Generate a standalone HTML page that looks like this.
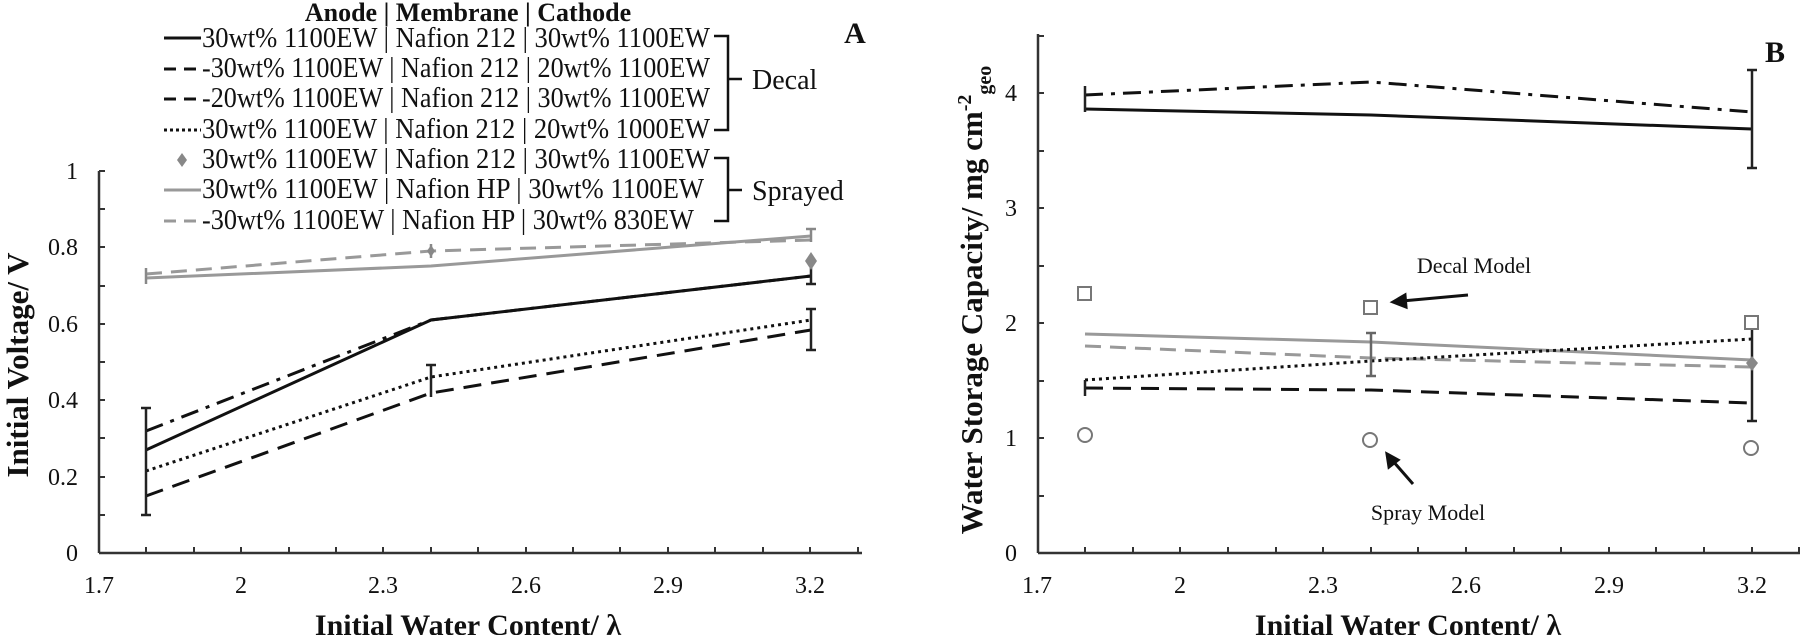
<!DOCTYPE html>
<html><head><meta charset="utf-8"><style>
html,body{margin:0;padding:0;background:#fff}
svg{display:block}
text{font-family:"Liberation Serif",serif;fill:#111}
</style></head><body>
<svg width="1800" height="635" viewBox="0 0 1800 635" xmlns="http://www.w3.org/2000/svg">
<!-- Panel A axes -->
<g stroke="#333" stroke-width="2.5" fill="none">
<line x1="99" y1="171" x2="99" y2="553"/>
<line x1="99" y1="553" x2="862" y2="553"/>
</g>
<g stroke="#333" stroke-width="2">
<line x1="99" y1="515" x2="105" y2="515"/><line x1="99" y1="477" x2="105" y2="477"/><line x1="99" y1="438" x2="105" y2="438"/><line x1="99" y1="400" x2="105" y2="400"/><line x1="99" y1="362" x2="105" y2="362"/><line x1="99" y1="324" x2="105" y2="324"/><line x1="99" y1="286" x2="105" y2="286"/><line x1="99" y1="247" x2="105" y2="247"/><line x1="99" y1="209" x2="105" y2="209"/><line x1="99" y1="171" x2="105" y2="171"/>
<line x1="146" y1="553" x2="146" y2="547"/><line x1="194" y1="553" x2="194" y2="547"/><line x1="241" y1="553" x2="241" y2="547"/><line x1="289" y1="553" x2="289" y2="547"/><line x1="336" y1="553" x2="336" y2="547"/><line x1="383" y1="553" x2="383" y2="547"/><line x1="431" y1="553" x2="431" y2="547"/><line x1="478" y1="553" x2="478" y2="547"/><line x1="526" y1="553" x2="526" y2="547"/><line x1="573" y1="553" x2="573" y2="547"/><line x1="620" y1="553" x2="620" y2="547"/><line x1="668" y1="553" x2="668" y2="547"/><line x1="715" y1="553" x2="715" y2="547"/><line x1="763" y1="553" x2="763" y2="547"/><line x1="810" y1="553" x2="810" y2="547"/><line x1="858" y1="553" x2="858" y2="547"/>
</g>
<g font-size="24" text-anchor="end">
<text x="78" y="561">0</text><text x="78" y="485">0.2</text><text x="78" y="408">0.4</text><text x="78" y="332">0.6</text><text x="78" y="255">0.8</text><text x="78" y="179">1</text>
</g>
<g font-size="24" text-anchor="middle">
<text x="99" y="593">1.7</text><text x="241" y="593">2</text><text x="383" y="593">2.3</text><text x="526" y="593">2.6</text><text x="668" y="593">2.9</text><text x="810" y="593">3.2</text>
</g>
<text x="468" y="635" font-size="30" font-weight="bold" text-anchor="middle">Initial Water Content/ λ</text>
<text transform="translate(28,365) rotate(-90)" font-size="31" font-weight="bold" text-anchor="middle">Initial Voltage/ V</text>
<text x="855" y="43" font-size="30" font-weight="bold" text-anchor="middle">A</text>

<!-- Panel A series -->
<g fill="none" stroke-width="3">
<polyline points="146,278 431,266 811,236" stroke="#999"/>
<polyline points="146,274 431,251 811,240" stroke="#999" stroke-dasharray="16,9"/>
<polyline points="146,431 431,320 811,276" stroke="#111" stroke-dasharray="18,8,4,8"/>
<polyline points="146,450 431,320 811,276" stroke="#111"/>
<polyline points="146,471 431,377 811,320" stroke="#111" stroke-dasharray="3,4"/>
<polyline points="146,496 431,393 811,330" stroke="#111" stroke-dasharray="18,10"/>
</g>
<g stroke="#222" stroke-width="2.5">
<line x1="146" y1="408" x2="146" y2="515"/><line x1="141" y1="408" x2="151" y2="408"/><line x1="141" y1="515" x2="151" y2="515"/>
<line x1="431" y1="365" x2="431" y2="397"/><line x1="426" y1="365" x2="436" y2="365"/>
<line x1="811" y1="309" x2="811" y2="350"/><line x1="806" y1="309" x2="816" y2="309"/><line x1="806" y1="350" x2="816" y2="350"/>
<line x1="811" y1="268" x2="811" y2="284"/><line x1="806" y1="284" x2="816" y2="284"/>
<line x1="146" y1="268" x2="146" y2="284" stroke="#888"/>
<line x1="811" y1="229" x2="811" y2="242" stroke="#888"/><line x1="806" y1="229" x2="816" y2="229" stroke="#888"/>
<line x1="431" y1="244" x2="431" y2="258" stroke="#888"/>
</g>
<polygon points="811,252 817,261 811,270 805,261" fill="#888"/>
<polygon points="431,245 435,251 431,257 427,251" fill="#888"/>

<!-- Legend A -->
<text x="468" y="21" font-size="26" font-weight="bold" text-anchor="middle">Anode | Membrane | Cathode</text>
<g font-size="28">
<text x="202" y="47" textLength="508" lengthAdjust="spacingAndGlyphs">30wt% 1100EW | Nafion 212 | 30wt% 1100EW</text>
<text x="202" y="77" textLength="508" lengthAdjust="spacingAndGlyphs">-30wt% 1100EW | Nafion 212 | 20wt% 1100EW</text>
<text x="202" y="107" textLength="508" lengthAdjust="spacingAndGlyphs">-20wt% 1100EW | Nafion 212 | 30wt% 1100EW</text>
<text x="202" y="138" textLength="508" lengthAdjust="spacingAndGlyphs">30wt% 1100EW | Nafion 212 | 20wt% 1000EW</text>
<text x="202" y="168" textLength="508" lengthAdjust="spacingAndGlyphs">30wt% 1100EW | Nafion 212 | 30wt% 1100EW</text>
<text x="202" y="198" textLength="502" lengthAdjust="spacingAndGlyphs">30wt% 1100EW | Nafion HP | 30wt% 1100EW</text>
<text x="202" y="229" textLength="492" lengthAdjust="spacingAndGlyphs">-30wt% 1100EW | Nafion HP | 30wt% 830EW</text>
<text x="752" y="89">Decal</text>
<text x="752" y="200">Sprayed</text>
</g>
<g fill="none" stroke-width="3">
<line x1="164" y1="38" x2="201" y2="38" stroke="#111"/>
<line x1="164" y1="69" x2="201" y2="69" stroke="#111" stroke-dasharray="12,8"/>
<line x1="164" y1="99" x2="201" y2="99" stroke="#111" stroke-dasharray="12,8"/>
<line x1="164" y1="130" x2="201" y2="130" stroke="#111" stroke-dasharray="3,3"/>
<line x1="164" y1="190" x2="201" y2="190" stroke="#999"/>
<line x1="164" y1="221" x2="201" y2="221" stroke="#999" stroke-dasharray="12,8"/>
<path d="M714,36 H728 V130 H714 M728,79 H742" stroke="#111" stroke-width="2.5"/>
<path d="M714,158 H728 V221 H714 M728,190 H742" stroke="#111" stroke-width="2.5"/>
</g>
<polygon points="182,153 187,160 182,167 177,160" fill="#888"/>

<!-- Panel B axes -->
<g stroke="#333" stroke-width="2.5" fill="none">
<line x1="1038" y1="34" x2="1038" y2="553"/>
<line x1="1038" y1="553" x2="1800" y2="553"/>
</g>
<g stroke="#333" stroke-width="2">
<line x1="1038" y1="496" x2="1044" y2="496"/><line x1="1038" y1="438" x2="1044" y2="438"/><line x1="1038" y1="381" x2="1044" y2="381"/><line x1="1038" y1="323" x2="1044" y2="323"/><line x1="1038" y1="266" x2="1044" y2="266"/><line x1="1038" y1="208" x2="1044" y2="208"/><line x1="1038" y1="151" x2="1044" y2="151"/><line x1="1038" y1="93" x2="1044" y2="93"/><line x1="1038" y1="36" x2="1044" y2="36"/>
<line x1="1085" y1="553" x2="1085" y2="547"/><line x1="1133" y1="553" x2="1133" y2="547"/><line x1="1180" y1="553" x2="1180" y2="547"/><line x1="1228" y1="553" x2="1228" y2="547"/><line x1="1276" y1="553" x2="1276" y2="547"/><line x1="1323" y1="553" x2="1323" y2="547"/><line x1="1371" y1="553" x2="1371" y2="547"/><line x1="1418" y1="553" x2="1418" y2="547"/><line x1="1466" y1="553" x2="1466" y2="547"/><line x1="1514" y1="553" x2="1514" y2="547"/><line x1="1561" y1="553" x2="1561" y2="547"/><line x1="1609" y1="553" x2="1609" y2="547"/><line x1="1656" y1="553" x2="1656" y2="547"/><line x1="1704" y1="553" x2="1704" y2="547"/><line x1="1752" y1="553" x2="1752" y2="547"/><line x1="1799" y1="553" x2="1799" y2="547"/>
</g>
<g font-size="24" text-anchor="end">
<text x="1017" y="561">0</text><text x="1017" y="446">1</text><text x="1017" y="331">2</text><text x="1017" y="216">3</text><text x="1017" y="101">4</text>
</g>
<g font-size="24" text-anchor="middle">
<text x="1037" y="593">1.7</text><text x="1180" y="593">2</text><text x="1323" y="593">2.3</text><text x="1466" y="593">2.6</text><text x="1609" y="593">2.9</text><text x="1752" y="593">3.2</text>
</g>
<text x="1408" y="635" font-size="30" font-weight="bold" text-anchor="middle">Initial Water Content/ λ</text>
<text transform="translate(982,300) rotate(-90)" font-size="31" font-weight="bold" text-anchor="middle">Water Storage Capacity/ mg cm<tspan dy="-11" font-size="20">-2</tspan><tspan dy="20" font-size="20">geo</tspan></text>
<text x="1775" y="62" font-size="30" font-weight="bold" text-anchor="middle">B</text>

<g fill="none" stroke-width="3">
<polyline points="1085,95 1371,82 1752,112" stroke="#111" stroke-dasharray="18,8,4,8"/>
<polyline points="1085,109 1371,115 1752,129" stroke="#111"/>
<polyline points="1085,334 1371,342 1752,360" stroke="#999"/>
<polyline points="1085,346 1371,358 1752,367" stroke="#999" stroke-dasharray="16,9"/>
<polyline points="1085,380 1371,361 1752,339" stroke="#111" stroke-dasharray="3,4"/>
<polyline points="1085,388 1371,390 1752,403" stroke="#111" stroke-dasharray="18,10"/>
</g>
<g stroke="#222" stroke-width="2.5">
<line x1="1752" y1="70" x2="1752" y2="168"/><line x1="1747" y1="70" x2="1757" y2="70"/><line x1="1747" y1="168" x2="1757" y2="168"/>
<line x1="1085" y1="86" x2="1085" y2="112"/>
<line x1="1752" y1="384" x2="1752" y2="421"/><line x1="1747" y1="421" x2="1757" y2="421"/>
<line x1="1085" y1="380" x2="1085" y2="396"/>
<line x1="1752" y1="330" x2="1752" y2="384"/>
<line x1="1371" y1="333" x2="1371" y2="376" stroke="#666"/><line x1="1366" y1="333" x2="1376" y2="333" stroke="#666"/><line x1="1366" y1="376" x2="1376" y2="376" stroke="#666"/>
</g>
<polygon points="1752,356 1758,363 1752,371 1746,363" fill="#888"/>
<g fill="none" stroke="#777" stroke-width="2">
<rect x="1078" y="287" width="13" height="13"/><rect x="1364" y="301" width="13" height="13"/><rect x="1745" y="316" width="13" height="13"/>
<circle cx="1085" cy="435" r="7"/><circle cx="1370" cy="440" r="7"/><circle cx="1751" cy="448" r="7"/>
</g>
<text x="1474" y="273" font-size="22" text-anchor="middle" fill="#222">Decal Model</text>
<text x="1428" y="520" font-size="22" text-anchor="middle" fill="#222">Spray Model</text>
<g stroke="#111" stroke-width="3" fill="#111">
<line x1="1468" y1="295" x2="1402" y2="301"/><polygon points="1393,302 1405,295 1406,307"/>
<line x1="1413" y1="484" x2="1392" y2="460"/><polygon points="1387,454 1398,460 1389,467"/>
</g>
</svg>
</body></html>
